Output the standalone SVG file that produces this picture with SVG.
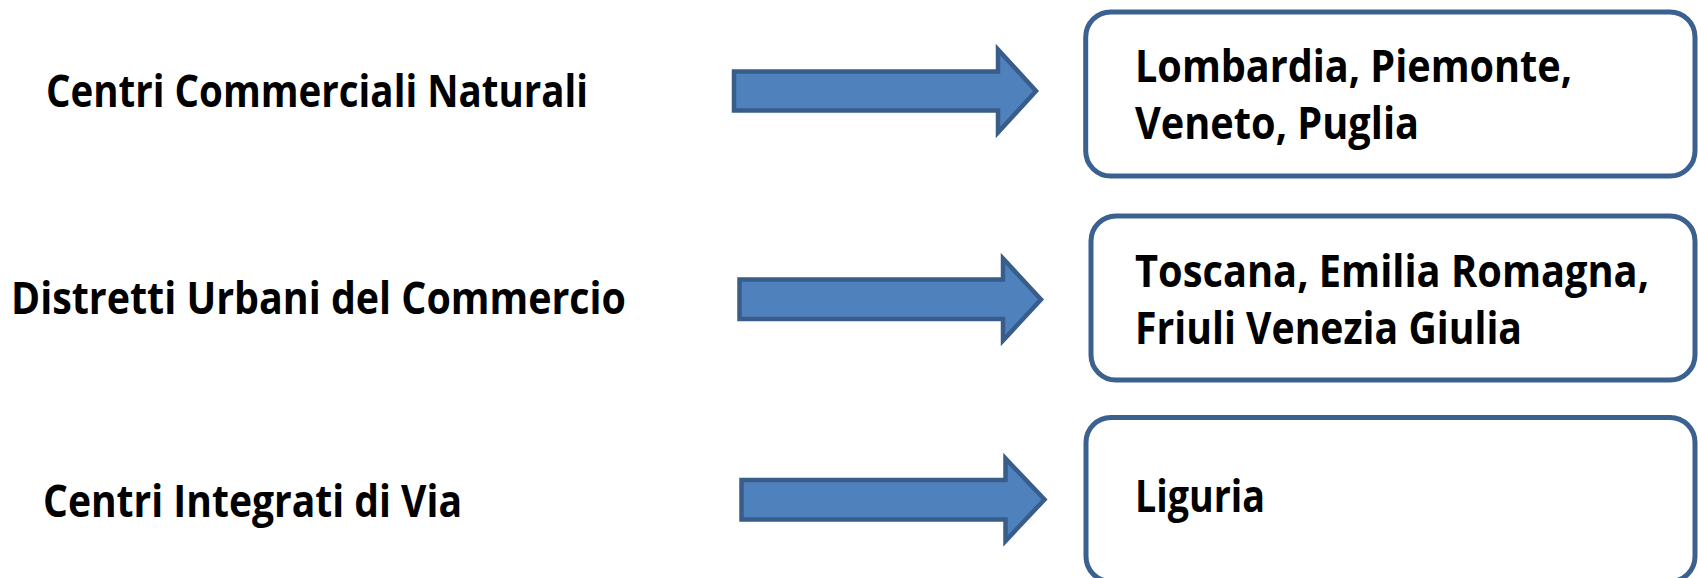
<svg xmlns="http://www.w3.org/2000/svg" width="1698" height="578" viewBox="0 0 1698 578">
<style>
.lbl{font-family:"Open Sans","Noto Sans","DejaVu Sans",sans-serif;font-weight:700;font-size:44px;fill:#000}
.box{fill:#fff;stroke:#3A6190;stroke-width:5}
.arr{fill:#4F81BD;stroke:#385D8A;stroke-width:4.5;stroke-linejoin:miter}
</style>
<rect width="1698" height="578" fill="#fff"/>
<g id="src1"><text class="lbl" x="46" y="107" textLength="542" lengthAdjust="spacingAndGlyphs">Centri Commerciali Naturali</text></g>
<g id="src2"><text class="lbl" x="11" y="314" textLength="615" lengthAdjust="spacingAndGlyphs">Distretti Urbani del Commercio</text></g>
<g id="src3"><text class="lbl" x="43" y="517" textLength="419" lengthAdjust="spacingAndGlyphs">Centri Integrati di Via</text></g>
<g id="dst1">
<rect class="box" x="1085.7" y="12" width="609.3" height="164" rx="25"/>
<text class="lbl" x="1135" y="82" textLength="437" lengthAdjust="spacingAndGlyphs">Lombardia, Piemonte,</text>
<text class="lbl" x="1135" y="139" textLength="284" lengthAdjust="spacingAndGlyphs">Veneto, Puglia</text>
</g>
<g id="dst2">
<rect class="box" x="1091" y="216" width="604" height="164" rx="25"/>
<text class="lbl" x="1135" y="287" textLength="514" lengthAdjust="spacingAndGlyphs">Toscana, Emilia Romagna,</text>
<text class="lbl" x="1135" y="344" textLength="387" lengthAdjust="spacingAndGlyphs">Friuli Venezia Giulia</text>
</g>
<g id="dst3">
<rect class="box" x="1086" y="417.5" width="609" height="164" rx="25"/>
<text class="lbl" x="1135" y="512" textLength="130" lengthAdjust="spacingAndGlyphs">Liguria</text>
</g>
<g id="connectors">
<path class="arr" d="M734,71.5 H998 V49.5 L1036,91 L998,132.5 V110.5 H734 Z"/>
<path class="arr" d="M739.5,279.5 H1003 V258.5 L1041,299.5 L1003,340.5 V319 H739.5 Z"/>
<path class="arr" d="M741.5,480 H1005.5 V458.5 L1044.5,499.5 L1005.5,541 V519.5 H741.5 Z"/>
</g>
</svg>
